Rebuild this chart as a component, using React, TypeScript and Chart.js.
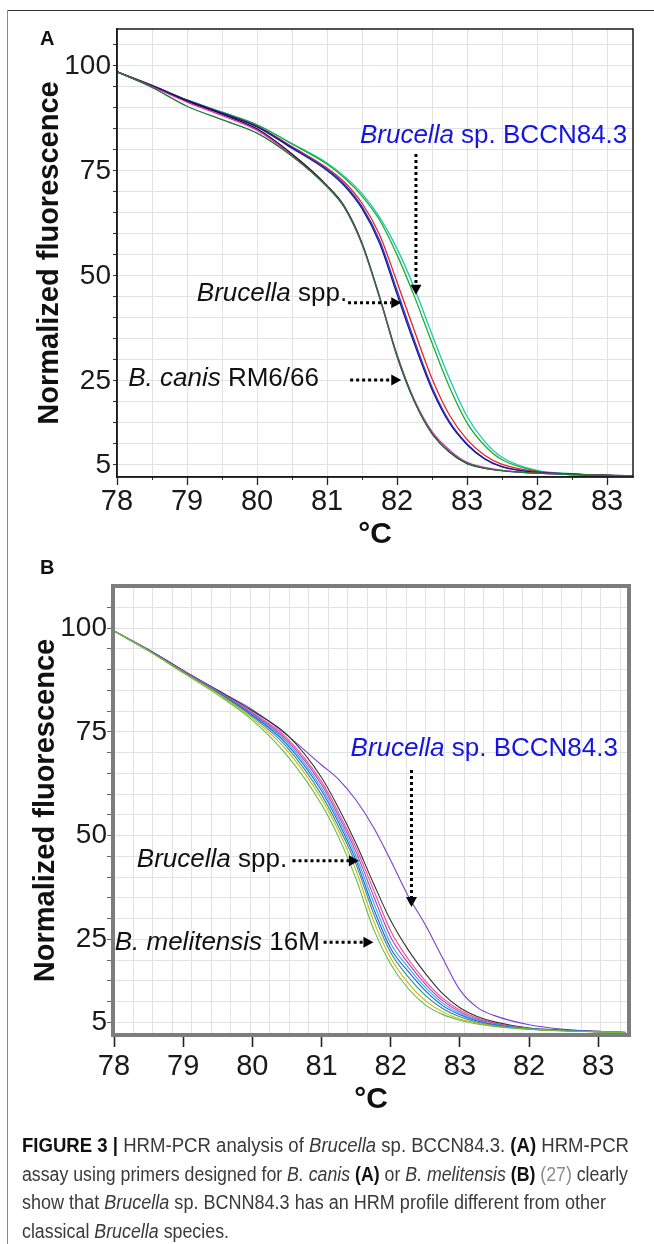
import React, { useEffect, useLayoutEffect, useRef } from "react";
import { Chart, registerables } from "chart.js";

Chart.register(...registerables);

const FONT = '"Liberation Sans", Arial, sans-serif';

// ---------- Panel A data ----------
const tempA = [78, 78.5, 79, 79.5, 80, 80.5, 81, 81.25, 81.5, 81.75, 82, 82.25, 82.5, 82.75, 83, 83.25, 83.5, 84, 84.5, 85, 85.4];
const aCanisDarkGreen = [98.6, 94.9, 90.4, 87.2, 84.0, 78.5, 71.3, 66.3, 57.6, 45.0, 31.2, 20.1, 12.5, 8.1, 5.4, 4.2, 3.6, 3.0, 2.7, 2.5, 2.4];
const aCanisMagenta = [98.6, 95.1, 91.4, 88.2, 84.7, 78.7, 71.2, 66.2, 57.5, 44.8, 31.0, 20.4, 12.9, 8.5, 5.6, 4.4, 3.7, 3.0, 2.7, 2.5, 2.4];
const aCanisBlack = [98.6, 95.2, 91.6, 88.5, 85.0, 79.0, 71.5, 66.5, 57.8, 45.0, 30.8, 20.0, 12.4, 8.0, 5.3, 4.2, 3.6, 3.0, 2.7, 2.5, 2.4];
const aSppNavy = [98.6, 95.3, 91.8, 88.7, 85.5, 80.4, 75.1, 71.4, 66.0, 57.8, 45.6, 33.7, 22.9, 14.9, 9.8, 6.4, 4.5, 3.2, 2.8, 2.5, 2.4];
const aSppBlue = [98.6, 95.3, 91.8, 88.8, 85.6, 80.6, 75.4, 71.8, 66.5, 58.5, 46.5, 34.5, 23.5, 15.3, 10.0, 6.5, 4.6, 3.2, 2.8, 2.5, 2.4];
const aSppRed = [98.6, 95.3, 91.8, 88.8, 85.7, 80.8, 75.7, 72.3, 67.3, 59.8, 48.5, 36.8, 25.5, 16.8, 11.0, 7.3, 5.1, 3.4, 2.8, 2.5, 2.4];
const aBccnGreen = [98.6, 95.4, 91.9, 89.0, 86.0, 81.4, 76.6, 73.3, 69.0, 63.3, 55.0, 45.0, 34.0, 23.5, 15.0, 9.6, 6.2, 3.5, 2.8, 2.5, 2.4];
const aBccnCyan = [98.6, 95.4, 91.9, 89.0, 86.0, 81.5, 76.9, 73.7, 69.6, 64.0, 56.5, 47.0, 36.0, 25.5, 16.5, 10.6, 6.8, 3.7, 2.9, 2.5, 2.4];

// ---------- Panel B data ----------
const tempB = [78, 78.5, 79, 79.5, 80, 80.5, 81, 81.25, 81.5, 81.75, 82, 82.25, 82.5, 82.75, 83, 83.25, 83.5, 84, 84.5, 85, 85.4];
const bGreen = [99.3, 94.5, 89.2, 83.9, 77.8, 69.3, 57.5, 49.5, 39.5, 27.5, 19.0, 13.2, 9.2, 6.9, 5.5, 4.6, 4.0, 3.3, 2.9, 2.7, 2.5];
const bYellow = [99.3, 94.5, 89.3, 84.2, 78.3, 70.5, 58.8, 51.0, 41.5, 29.5, 20.5, 14.5, 10.2, 7.5, 5.8, 4.8, 4.1, 3.3, 2.9, 2.7, 2.5];
const bTeal = [99.3, 94.6, 89.4, 84.4, 78.7, 71.3, 59.8, 52.0, 43.0, 31.3, 21.8, 16.0, 11.5, 8.3, 6.3, 5.0, 4.2, 3.4, 3.0, 2.7, 2.5];
const bBlue = [99.3, 94.6, 89.5, 84.5, 79.0, 72.0, 60.8, 53.0, 44.0, 32.5, 22.8, 17.3, 12.6, 9.0, 6.8, 5.3, 4.4, 3.4, 3.0, 2.7, 2.5];
const bCyan = [99.3, 94.6, 89.5, 84.6, 79.2, 72.5, 61.5, 53.8, 45.0, 34.0, 24.0, 18.3, 13.4, 9.6, 7.1, 5.5, 4.5, 3.4, 3.0, 2.7, 2.5];
const bMagenta = [99.3, 94.7, 89.6, 84.7, 79.4, 73.0, 62.3, 54.6, 46.0, 35.5, 25.5, 19.3, 14.2, 10.2, 7.5, 5.7, 4.7, 3.5, 3.0, 2.7, 2.5];
const bPink = [99.3, 94.7, 89.7, 84.8, 79.6, 73.5, 63.0, 55.4, 47.0, 37.0, 27.0, 20.3, 15.0, 10.8, 7.9, 6.0, 4.8, 3.5, 3.0, 2.7, 2.5];
const bBlack = [99.3, 94.8, 89.8, 85.0, 80.0, 74.3, 64.0, 56.5, 48.0, 38.5, 29.5, 22.5, 16.8, 11.9, 8.5, 6.4, 5.1, 3.6, 3.1, 2.8, 2.5];
const bPurple = [99.3, 94.8, 89.8, 85.0, 80.3, 74.2, 67.0, 63.5, 58.5, 52.0, 44.0, 35.5, 28.5, 20.5, 12.8, 8.6, 6.6, 4.4, 3.3, 2.8, 2.6];

// ---------- Tick labels ----------
const xTickLabels = ["78", "79", "80", "81", "82", "83", "82", "83"];
const yTickLabels = [100, 75, 50, 25, 5];

const seriesA = [
  { values: aCanisDarkGreen, color: "#1f7a2a" },
  { values: aCanisMagenta, color: "#e021d8" },
  { values: aCanisBlack, color: "#111111" },
  { values: aSppNavy, color: "#1b1b7a" },
  { values: aSppBlue, color: "#2233ee" },
  { values: aSppRed, color: "#ee2222" },
  { values: aBccnGreen, color: "#1fae2a" },
  { values: aBccnCyan, color: "#18c8b8" },
];

const seriesB = [
  { values: bGreen, color: "#5cbf45" },
  { values: bYellow, color: "#d6b300" },
  { values: bTeal, color: "#139a96" },
  { values: bBlue, color: "#3355ee" },
  { values: bCyan, color: "#22b8dd" },
  { values: bMagenta, color: "#c832c8" },
  { values: bPink, color: "#e8508a" },
  { values: bBlack, color: "#333333" },
  { values: bPurple, color: "#7b3fd0" },
];

// annotations (data coordinates)
const annotA = [
  { kind: "text", x: 81.47, y: 83.3, color: "#1515e0", parts: [{ t: "Brucella", it: true }, { t: " sp. BCCN84.3" }] },
  { kind: "arrow", x1: 82.27, y1: 79.0, x2: 82.27, y2: 45.5 },
  { kind: "text", x: 79.14, y: 45.7, color: "#111", parts: [{ t: "Brucella", it: true }, { t: " spp." }] },
  { kind: "arrow", x1: 81.3, y1: 43.6, x2: 82.06, y2: 43.6 },
  { kind: "text", x: 78.16, y: 25.5, color: "#111", parts: [{ t: "B. canis", it: true }, { t: " RM6/66" }] },
  { kind: "arrow", x1: 81.33, y1: 25.2, x2: 82.06, y2: 25.2 },
];
const annotB = [
  { kind: "text", x: 81.42, y: 70.8, color: "#1515e0", parts: [{ t: "Brucella", it: true }, { t: " sp. BCCN84.3" }] },
  { kind: "arrow", x1: 82.3, y1: 65.8, x2: 82.3, y2: 32.8 },
  { kind: "text", x: 78.33, y: 44.1, color: "#111", parts: [{ t: "Brucella", it: true }, { t: " spp." }] },
  { kind: "arrow", x1: 80.58, y1: 43.9, x2: 81.54, y2: 43.9 },
  { kind: "text", x: 78.01, y: 24.1, color: "#111", parts: [{ t: "B. melitensis", it: true }, { t: " 16M" }] },
  { kind: "arrow", x1: 81.03, y1: 24.3, x2: 81.75, y2: 24.3 },
];

const annotPlugin = {
  id: "annot",
  afterDatasetsDraw(chart: any, _args: any, opts: any) {
    const { ctx } = chart;
    const xs = chart.scales.x;
    const ys = chart.scales.y;
    ctx.save();
    for (const it of opts.items || []) {
      if (it.kind === "text") {
        let px = xs.getPixelForValue(it.x);
        const py = ys.getPixelForValue(it.y);
        ctx.fillStyle = it.color;
        ctx.textBaseline = "middle";
        ctx.textAlign = "left";
        for (const p of it.parts) {
          ctx.font = `${p.it ? "italic " : ""}${opts.size}px ${FONT}`;
          ctx.fillText(p.t, px, py);
          px += ctx.measureText(p.t).width;
        }
      } else {
        const x1 = xs.getPixelForValue(it.x1);
        const y1 = ys.getPixelForValue(it.y1);
        const x2 = xs.getPixelForValue(it.x2);
        const y2 = ys.getPixelForValue(it.y2);
        const dx = x2 - x1;
        const dy = y2 - y1;
        const len = Math.hypot(dx, dy);
        const ux = dx / len;
        const uy = dy / len;
        const head = 10;
        const hw = 5.5;
        const bx = x2 - ux * head;
        const by = y2 - uy * head;
        ctx.strokeStyle = "#000";
        ctx.lineWidth = 3;
        ctx.lineCap = "butt";
        ctx.setLineDash([3, 3]);
        ctx.beginPath();
        ctx.moveTo(x1, y1);
        ctx.lineTo(bx, by);
        ctx.stroke();
        ctx.setLineDash([]);
        ctx.fillStyle = "#000";
        ctx.beginPath();
        ctx.moveTo(x2, y2);
        ctx.lineTo(bx - uy * hw, by + ux * hw);
        ctx.lineTo(bx + uy * hw, by - ux * hw);
        ctx.closePath();
        ctx.fill();
      }
    }
    ctx.restore();
  },
};

const framePlugin = {
  id: "frame",
  afterDraw(chart: any, _args: any, opts: any) {
    const { ctx } = chart;
    const { left, top, right, bottom } = chart.chartArea;
    const o = opts.offset || 0;
    ctx.save();
    ctx.strokeStyle = opts.color;
    ctx.lineWidth = opts.width;
    ctx.strokeRect(left - o, top - o, right - left + 2 * o, bottom - top + 2 * o);
    ctx.restore();
  },
};

function makeDatasets(xs: number[], series: { values: number[]; color: string }[], width: number) {
  return series.map((s, i) => ({
    label: "s" + i,
    data: xs.map((x, j) => ({ x, y: s.values[j] })),
    borderColor: s.color,
    borderWidth: width,
    pointRadius: 0,
    fill: false,
    cubicInterpolationMode: "monotone",
  }));
}

const yTickCb = (v: any) => (yTickLabels.includes(Math.round(v)) && Math.abs(v - Math.round(v)) < 1e-6 ? String(Math.round(v)) : "");
const xTickCb = (v: any) => {
  const i = Math.round(v - 78);
  return Math.abs(v - 78 - i) < 1e-6 && xTickLabels[i] !== undefined ? xTickLabels[i] : "";
};

function configA(): any {
  return {
    type: "line",
    data: { datasets: makeDatasets(tempA, seriesA, 1.3) },
    plugins: [annotPlugin, framePlugin],
    options: {
      animation: false,
      responsive: false,
      maintainAspectRatio: false,
      layout: { padding: { top: 29, right: 21, left: 0, bottom: 0 } },
      plugins: {
        legend: { display: false },
        tooltip: { enabled: false },
        annot: { items: annotA, size: 26 },
        frame: { color: "#1a1a1a", width: 1.5, offset: 0 },
      },
      scales: {
        x: {
          type: "linear",
          position: "bottom",
          min: 78,
          max: 85.37,
          weight: 1,
          afterFit: (s: any) => { s.height = 83; },
          ticks: {
            stepSize: 1,
            autoSkip: false,
            maxRotation: 0,
            minRotation: 0,
            includeBounds: false,
            padding: 2,
            color: "#1a1a1a",
            font: { family: FONT, size: 29, lineHeight: 1 },
            callback: xTickCb,
          },
          grid: { drawOnChartArea: false, tickLength: 8, tickWidth: 1.3, tickColor: "#222" },
          border: { display: true, color: "#1a1a1a", width: 1.5 },
          title: { display: true, text: "°C", color: "#111", font: { family: FONT, size: 30, weight: "bold", lineHeight: 1.2 }, padding: { top: 0, bottom: 7 } },
        },
        xg: {
          type: "linear",
          position: "bottom",
          min: 78,
          max: 85.37,
          weight: 0,
          afterFit: (s: any) => { s.height = 0; },
          ticks: { display: false, stepSize: 0.5, includeBounds: false },
          grid: { color: "#e2e2e2", lineWidth: 1, tickLength: 3, tickColor: "#333", drawTicks: true },
          border: { display: false },
        },
        y: {
          type: "linear",
          min: 2.1,
          max: 108.8,
          afterFit: (s: any) => { s.width = 117; },
          ticks: {
            stepSize: 5,
            autoSkip: false,
            includeBounds: false,
            padding: 2,
            color: "#1a1a1a",
            font: { family: FONT, size: 28, lineHeight: 1 },
            callback: yTickCb,
          },
          grid: { color: "#e2e2e2", lineWidth: 1, tickLength: 4, tickColor: "#333" },
          border: { display: true, color: "#1a1a1a", width: 1.5 },
          title: { display: true, text: "Normalized fluorescence", color: "#111", font: { family: FONT, size: 29, weight: "bold", lineHeight: 1.2 }, padding: { top: 33, bottom: 0 } },
        },
      },
    },
  };
}

function configB(): any {
  return {
    type: "line",
    data: { datasets: makeDatasets(tempB, seriesB, 1.1) },
    plugins: [annotPlugin, framePlugin],
    options: {
      animation: false,
      responsive: false,
      maintainAspectRatio: false,
      layout: { padding: { top: 47, right: 26, left: 0, bottom: 0 } },
      plugins: {
        legend: { display: false },
        tooltip: { enabled: false },
        annot: { items: annotB, size: 26 },
        frame: { color: "#7d7d7d", width: 4, offset: 1 },
      },
      scales: {
        x: {
          type: "linear",
          position: "bottom",
          min: 78,
          max: 85.43,
          weight: 1,
          afterFit: (s: any) => { s.height = 106; },
          ticks: {
            stepSize: 1,
            autoSkip: false,
            maxRotation: 0,
            minRotation: 0,
            includeBounds: false,
            padding: 5,
            color: "#1a1a1a",
            font: { family: FONT, size: 29, lineHeight: 1 },
            callback: xTickCb,
          },
          grid: { drawOnChartArea: false, tickLength: 13, tickWidth: 1.6, tickColor: "#222" },
          border: { display: false },
          title: { display: true, text: "°C", color: "#111", font: { family: FONT, size: 30, weight: "bold", lineHeight: 1.2 }, padding: { top: 0, bottom: 22 } },
        },
        xg: {
          type: "linear",
          position: "bottom",
          min: 0,
          max: 26.4,
          weight: 0,
          afterFit: (s: any) => { s.height = 0; },
          ticks: { display: false, stepSize: 1, includeBounds: false },
          grid: { color: "#e2e2e2", lineWidth: 1, drawTicks: false },
          border: { display: false },
        },
        y: {
          type: "linear",
          min: 2.17,
          max: 109.9,
          afterFit: (s: any) => { s.width = 114; },
          ticks: {
            stepSize: 5,
            autoSkip: false,
            includeBounds: false,
            padding: 0,
            color: "#1a1a1a",
            font: { family: FONT, size: 28, lineHeight: 1 },
            callback: yTickCb,
          },
          grid: { color: "#e2e2e2", lineWidth: 1, tickLength: 7, tickColor: "#666" },
          border: { display: false },
          title: { display: true, text: "Normalized fluorescence", color: "#111", font: { family: FONT, size: 29, weight: "bold", lineHeight: 1.2 }, padding: { top: 29, bottom: 0 } },
        },
      },
    },
  };
}

const CAPTION_FONT = '"Liberation Sans Narrow", "Arial Narrow", "Liberation Sans", sans-serif';
const CAPTION_LINE_WIDTHS = [607, 606, 584, 207];

export default function App() {
  const refA = useRef<HTMLCanvasElement>(null);
  const refB = useRef<HTMLCanvasElement>(null);
  const lineRefs = useRef<(HTMLDivElement | null)[]>([]);

  useLayoutEffect(() => {
    lineRefs.current.forEach((el, i) => {
      if (!el) return;
      el.style.transform = "none";
      const w = el.getBoundingClientRect().width;
      if (w > 0) el.style.transform = `scaleX(${CAPTION_LINE_WIDTHS[i] / w})`;
    });
  }, []);

  useEffect(() => {
    const a = new Chart(refA.current as HTMLCanvasElement, configA());
    const b = new Chart(refB.current as HTMLCanvasElement, configB());
    return () => {
      a.destroy();
      b.destroy();
    };
  }, []);

  const lineStyle: React.CSSProperties = {
    height: 28.5,
    lineHeight: "28.5px",
    whiteSpace: "nowrap",
    width: "max-content",
    transformOrigin: "left center",
  };
  const boldStyle: React.CSSProperties = { fontWeight: "bold", color: "#111" };
  const setRef = (i: number) => (el: HTMLDivElement | null) => {
    lineRefs.current[i] = el;
  };

  return (
    <div style={{ position: "absolute", left: 0, top: 0, width: 654, height: 1244, background: "#fff", overflow: "hidden" }}>
      <div style={{ position: "absolute", left: 7, top: 10, width: 647, height: 0, borderTop: "1.5px solid #333" }} />
      <div style={{ position: "absolute", left: 7, top: 10, width: 0, height: 1234, borderLeft: "1.5px solid #8a8a8a" }} />
      <canvas ref={refA} width={654} height={560} style={{ position: "absolute", left: 0, top: 0, width: 654, height: 560 }} />
      <canvas ref={refB} width={654} height={600} style={{ position: "absolute", left: 0, top: 540, width: 654, height: 600 }} />
      <div style={{ position: "absolute", left: 40, top: 27, fontFamily: FONT, fontWeight: "bold", fontSize: 20, color: "#111" }}>A</div>
      <div style={{ position: "absolute", left: 40, top: 556, fontFamily: FONT, fontWeight: "bold", fontSize: 20, color: "#111" }}>B</div>
      <div style={{ position: "absolute", left: 22, top: 1131, fontFamily: CAPTION_FONT, fontSize: 19.5, color: "#3a3a3a" }}>
        <div ref={setRef(0)} style={lineStyle}>
          <span style={boldStyle}>FIGURE 3 |</span> HRM-PCR analysis of <i>Brucella</i> sp. BCCN84.3. <span style={boldStyle}>(A)</span> HRM-PCR
        </div>
        <div ref={setRef(1)} style={lineStyle}>
          assay using primers designed for <i>B. canis</i> <span style={boldStyle}>(A)</span> or <i>B. melitensis</i> <span style={boldStyle}>(B)</span>{" "}
          <span style={{ color: "#8c8c8c" }}>(27)</span> clearly
        </div>
        <div ref={setRef(2)} style={lineStyle}>
          show that <i>Brucella</i> sp. BCNN84.3 has an HRM profile different from other
        </div>
        <div ref={setRef(3)} style={lineStyle}>
          classical <i>Brucella</i> species.
        </div>
      </div>
    </div>
  );
}
